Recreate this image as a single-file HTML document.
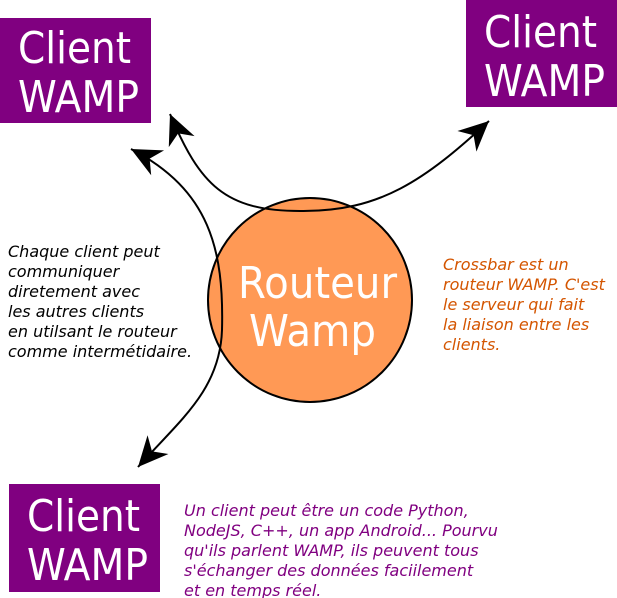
<!DOCTYPE html>
<html><head><meta charset="utf-8"><style>
html,body{margin:0;padding:0;background:#fff;}
svg{display:block;}
</style></head><body>
<svg width="617" height="598" viewBox="0 0 617 598" xmlns="http://www.w3.org/2000/svg">
<defs>
<marker id="ar" markerUnits="userSpaceOnUse" markerWidth="80" markerHeight="80" refX="0" refY="0" viewBox="-40 -20 80 40" orient="auto-start-reverse" style="overflow:visible">
<path d="M0,0 L-30,-14 L-21,0 L-30,14 Z" fill="#000"/>
</marker>
</defs>
<rect x="0" y="18" width="151" height="105" fill="#800080"/>
<rect x="466" y="0" width="151" height="107" fill="#800080"/>
<rect x="9" y="484" width="151" height="108" fill="#800080"/>
<g font-family="DejaVu Sans, sans-serif" font-size="44" fill="#fff">
<text x="18" y="63" textLength="113" lengthAdjust="spacingAndGlyphs">Client</text><text x="18" y="112" textLength="121" lengthAdjust="spacingAndGlyphs">WAMP</text>
<text x="484" y="47" textLength="113" lengthAdjust="spacingAndGlyphs">Client</text><text x="484" y="96" textLength="121" lengthAdjust="spacingAndGlyphs">WAMP</text>
<text x="27" y="531" textLength="113" lengthAdjust="spacingAndGlyphs">Client</text><text x="27" y="580" textLength="121" lengthAdjust="spacingAndGlyphs">WAMP</text>
</g>
<circle cx="310" cy="300" r="102" fill="#ff9955" stroke="#000" stroke-width="2"/>
<g font-family="DejaVu Sans, sans-serif" font-size="44" fill="#fff">
<text x="238" y="298" textLength="159" lengthAdjust="spacingAndGlyphs">Routeur</text><text x="249" y="346" textLength="127" lengthAdjust="spacingAndGlyphs">Wamp</text>
</g>
<path d="M138,467 C180,420 220,390 222,330 C224,250 210,190 131,149" fill="none" stroke="#000" stroke-width="2" marker-start="url(#ar)" marker-end="url(#ar)"/>
<path d="M170,114 C200,185 225,211 300,211 C380,212 425,180 489,121" fill="none" stroke="#000" stroke-width="2" marker-start="url(#ar)" marker-end="url(#ar)"/>
<g font-family="DejaVu Sans, sans-serif" font-style="italic" font-size="16" fill="#000">
<text x="8" y="257">Chaque client peut</text>
<text x="8" y="277">communiquer</text>
<text x="8" y="297">diretement avec</text>
<text x="8" y="317">les autres clients</text>
<text x="8" y="337">en utilsant le routeur</text>
<text x="8" y="357">comme intermétidaire.</text>
</g>
<g font-family="DejaVu Sans, sans-serif" font-style="italic" font-size="16" fill="#d45500">
<text x="443" y="270">Crossbar est un</text>
<text x="443" y="290">routeur WAMP. C'est</text>
<text x="443" y="310">le serveur qui fait</text>
<text x="443" y="330">la liaison entre les</text>
<text x="443" y="350">clients.</text>
</g>
<g font-family="DejaVu Sans, sans-serif" font-style="italic" font-size="16" fill="#800080">
<text x="184" y="516">Un client peut être un code Python,</text>
<text x="184" y="536">NodeJS, C++, un app Android... Pourvu</text>
<text x="184" y="556">qu'ils parlent WAMP, ils peuvent tous</text>
<text x="184" y="576">s'échanger des données faciilement</text>
<text x="184" y="596">et en temps réel.</text>
</g>
</svg>
</body></html>
